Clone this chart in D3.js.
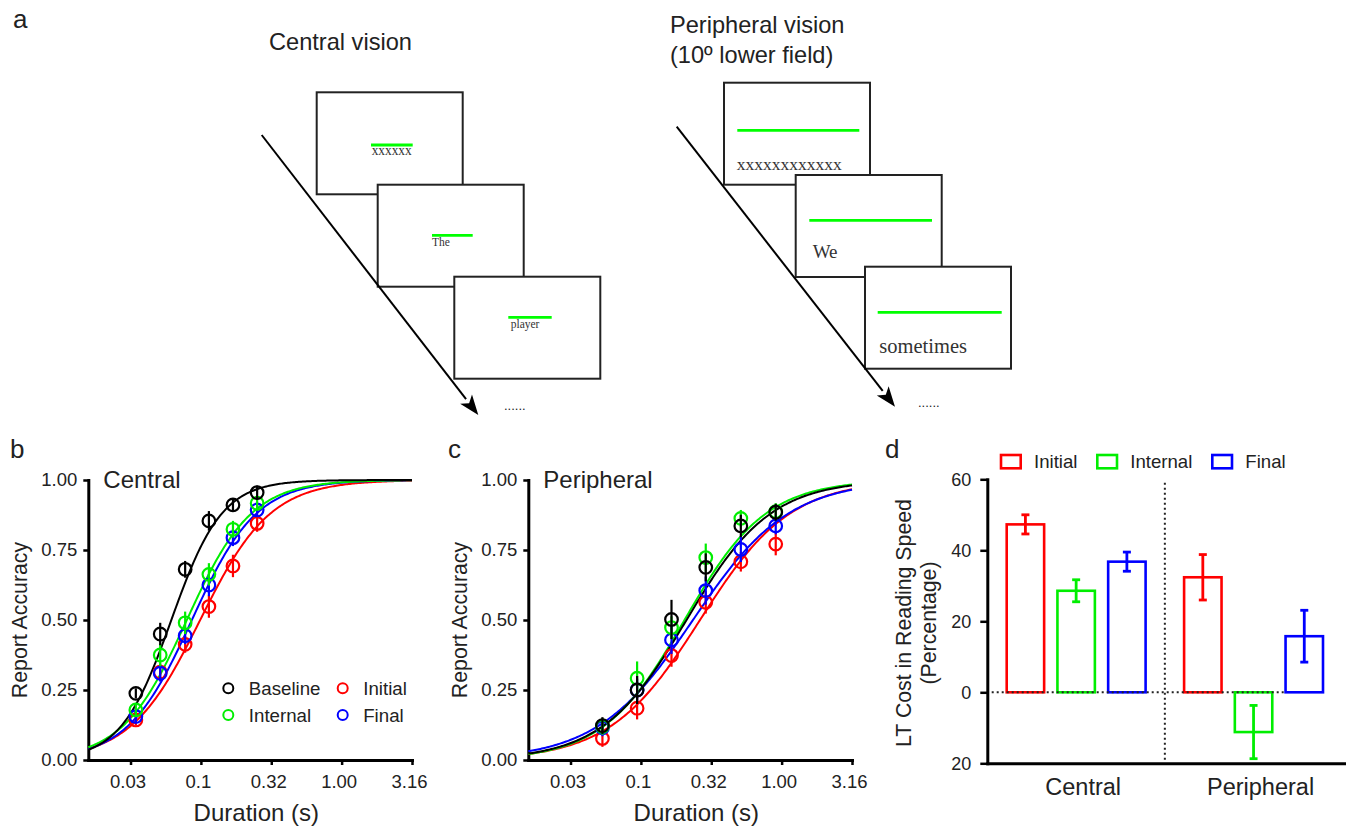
<!DOCTYPE html>
<html>
<head>
<meta charset="utf-8">
<script src="https://cdn.jsdelivr.net/npm/d3@7"></script>
<style>
body { margin: 0; background: #fff; }
text { font-family: "Liberation Sans", Arial, sans-serif; fill: #222; }
.serif { font-family: "Liberation Serif", "Times New Roman", serif; fill: #333; }
</style>
</head>
<body>
<svg id="fig" width="1346" height="827"></svg>
<script>
// ---- data ----
const conditions = ['Baseline', 'Initial', 'Internal', 'Final'];
const condColors = ['#000000', '#ff0000', '#00ee00', '#0000ff'];

const durTicks = [10 ** -1.5, 0.1, 10 ** -0.5, 1, 10 ** 0.5];
const durTickLabels = ['0.03', '0.1', '0.32', '1.00', '3.16'];
const accTicks = [0, 0.25, 0.5, 0.75, 1];

const durCentral = [0.0345, 0.0514, 0.0773, 0.114, 0.169, 0.251];
const durPeripheral = [0.0533, 0.094, 0.165, 0.289, 0.513, 0.908];

const centralBaseline = [0.238, 0.450, 0.681, 0.854, 0.911, 0.955];
const centralInitial  = [0.143, 0.314, 0.413, 0.548, 0.693, 0.845];
const centralInternal = [0.179, 0.375, 0.490, 0.663, 0.824, 0.917];
const centralFinal    = [0.155, 0.310, 0.444, 0.625, 0.794, 0.893];
const centralBaselineErr = [0.018, 0.040, 0.030, 0.035, 0.022, 0.025];
const centralInitialErr  = [0.020, 0.030, 0.030, 0.040, 0.040, 0.030];
const centralInternalErr = [0.020, 0.040, 0.040, 0.040, 0.030, 0.025];
const centralFinalErr    = [0.020, 0.030, 0.030, 0.040, 0.030, 0.025];

const peripheralBaseline = [0.123, 0.250, 0.502, 0.688, 0.836, 0.885];
const peripheralInitial  = [0.077, 0.185, 0.373, 0.563, 0.708, 0.771];
const peripheralInternal = [0.120, 0.292, 0.473, 0.723, 0.863, 0.887];
const peripheralFinal    = [0.115, 0.250, 0.429, 0.605, 0.752, 0.836];
const peripheralBaselineErr = [0.030, 0.050, 0.070, 0.050, 0.040, 0.030];
const peripheralInitialErr  = [0.030, 0.040, 0.040, 0.040, 0.035, 0.040];
const peripheralInternalErr = [0.030, 0.060, 0.040, 0.050, 0.030, 0.030];
const peripheralFinalErr    = [0.030, 0.040, 0.050, 0.050, 0.045, 0.030];

// logistic fits on log10(duration): midpoint and spread, per condition
const fitCentralMu = [-1.21, -1.005, -1.10, -1.064];
const fitCentralSigma = [0.18, 0.25, 0.23, 0.23];
const fitPeripheralMu = [-0.676, -0.58, -0.69, -0.63];
const fitPeripheralSigma = [0.30, 0.32, 0.29, 0.34];

// panel d
const barGroups = ['Central', 'Peripheral'];
const barConds = ['Initial', 'Internal', 'Final'];
const barColors = ['#ff0000', '#00ee00', '#0000ff'];
const costCentral = [47.3, 28.6, 36.8];
const costCentralErr = [2.7, 3.1, 2.7];
const costPeripheral = [32.4, -11.2, 15.8];
const costPeripheralErr = [6.4, 7.5, 7.3];
const costTicks = [-20, 0, 20, 40, 60];

// panel a
const centralWords = ['xxxxxx', 'The', 'player'];
const peripheralWords = ['xxxxxxxxxxxx', 'We', 'sometimes'];

const svg = d3.select('#fig');

const panelLabel = (txt, x, y) => svg.append('text')
    .attr('x', x).attr('y', y).attr('font-size', 26).text(txt);

// ================= panel a =================
panelLabel('a', 13, 28);

svg.append('text').attr('x', 269).attr('y', 50).attr('font-size', 23.6).text('Central vision');
svg.append('text').attr('x', 670).attr('y', 33).attr('font-size', 23.6).text('Peripheral vision');
svg.append('text').attr('x', 670).attr('y', 63).attr('font-size', 23.6).text('(10º lower field)');

// frame layout: box x, y, line dx, dy, len, text dx, dy, font, text width
const centralFrames = [
    [316.7, 92.3, 54.3, 52.7, 41.7, 55, 62.7, 14, 40],
    [377.7, 184.7, 54.3, 50.6, 40.7, 54.3, 61, 11.5, null],
    [454.3, 276.7, 54, 40.6, 43.4, 56.4, 51.6, 11.5, null]
];
const peripheralFrames = [
    [724, 82.7, 13.3, 47.6, 122, 12.7, 87.3, 17.5, 105],
    [795.7, 175, 13.6, 45.3, 122.7, 17, 83.3, 19, null],
    [865, 266.7, 12.7, 45.6, 124, 14.3, 86.6, 20.5, null]
];

const drawSequence = (frames, words, arrow, dots) => {
    const g = svg.append('g');
    const fr = g.selectAll('g.frame')
        .data(frames.map((f, i) => ({ f, w: words[i] })))
        .enter().append('g')
        .attr('transform', d => `translate(${d.f[0]},${d.f[1]})`);
    fr.append('rect')
        .attr('width', 146).attr('height', 102)
        .attr('fill', '#fff').attr('stroke', '#222').attr('stroke-width', 2);
    fr.append('line')
        .attr('x1', d => d.f[2]).attr('x2', d => d.f[2] + d.f[4])
        .attr('y1', d => d.f[3]).attr('y2', d => d.f[3])
        .attr('stroke', '#00ff00').attr('stroke-width', 2.8);
    fr.append('text')
        .attr('class', 'serif')
        .attr('x', d => d.f[5]).attr('y', d => d.f[6])
        .attr('font-size', d => d.f[7])
        .each(function (d) {
            if (d.f[8]) d3.select(this).attr('textLength', d.f[8]).attr('lengthAdjust', 'spacingAndGlyphs');
        })
        .text(d => d.w);

    const [x1, y1, x2, y2] = arrow;
    const ang = Math.atan2(y2 - y1, x2 - x1);
    const L = 20, W = 7.5;
    const bx = x2 - L * Math.cos(ang), by = y2 - L * Math.sin(ang);
    g.append('line')
        .attr('x1', x1).attr('y1', y1).attr('x2', bx).attr('y2', by)
        .attr('stroke', '#000').attr('stroke-width', 2);
    g.append('path')
        .attr('d', `M${x2},${y2}L${bx + W * Math.sin(ang)},${by - W * Math.cos(ang)}L${bx + 5 * Math.cos(ang)},${by + 5 * Math.sin(ang)}L${bx - W * Math.sin(ang)},${by + W * Math.cos(ang)}Z`)
        .attr('fill', '#000');
    g.append('text').attr('x', dots[0]).attr('y', dots[1]).attr('font-size', 13).text('......');
};

drawSequence(centralFrames, centralWords, [261.7, 135, 478.3, 415], [504, 410]);
drawSequence(peripheralFrames, peripheralWords, [676.7, 126.7, 895, 406.7], [918, 407]);

// ================= panels b & c =================
const styleAxis = (ax, fs) => {
    ax.select('.domain').attr('stroke-width', 3).attr('stroke', '#000').attr('stroke-linecap', 'square');
    ax.selectAll('.tick line').attr('stroke-width', 2.5).attr('stroke', '#000');
    ax.selectAll('.tick text').attr('font-size', fs).attr('fill', '#222')
        .attr('font-family', '"Liberation Sans", Arial, sans-serif');
};

const plotPsy = (x0, title, durs, series, errs, mus, sigmas) => {
    const x = d3.scaleLog().domain([10 ** -1.8, 10 ** 0.5]).range([x0, x0 + 323.7]);
    const y = d3.scaleLinear().domain([0, 1]).range([760, 480]);
    const g = svg.append('g');

    const xAx = g.append('g').attr('transform', 'translate(0,760)')
        .call(d3.axisBottom(x).tickValues(durTicks)
            .tickFormat((d, i) => durTickLabels[i]).tickSize(5).tickSizeOuter(0).tickPadding(10));
    styleAxis(xAx, 18.5);
    xAx.selectAll('.tick text').attr('dx', -3);

    const yAx = g.append('g').attr('transform', `translate(${x0},0)`)
        .call(d3.axisLeft(y).tickValues(accTicks).tickFormat(d3.format('.2f'))
            .tickSize(5).tickSizeOuter(0).tickPadding(6));
    styleAxis(yAx, 18.5);

    g.append('text')
        .attr('transform', `translate(${x0 - 61},620) rotate(-90)`)
        .attr('text-anchor', 'middle').attr('font-size', 21.3).text('Report Accuracy');
    g.append('text')
        .attr('x', x0 + 168).attr('y', 820.5)
        .attr('text-anchor', 'middle').attr('font-size', 24).text('Duration (s)');
    g.append('text')
        .attr('x', x0 + 15).attr('y', 488).attr('font-size', 24).text(title);

    const samples = d3.range(0, 241).map(i => 10 ** (-1.8 + 2.3 * i / 240));
    const line = d3.line().x(d => x(d[0])).y(d => y(d[1])).curve(d3.curveLinear);
    const order = [1, 3, 2, 0];

    order.forEach(k => {
        const mu = mus[k], s = sigmas[k];
        g.append('path')
            .datum(samples.map(t => [t, 1 / (1 + Math.exp(-(Math.log10(t) - mu) / s))]))
            .attr('d', line).attr('fill', 'none')
            .attr('stroke', condColors[k]).attr('stroke-width', 2);
    });

    order.forEach(k => {
        const pts = durs.map((t, i) => ({ t, v: series[k][i], e: errs[k][i] }));
        const pg = g.append('g').attr('stroke', condColors[k]).attr('stroke-width', 2.2);
        pg.selectAll('line').data(pts).enter().append('line')
            .attr('x1', d => x(d.t)).attr('x2', d => x(d.t))
            .attr('y1', d => y(d.v - d.e)).attr('y2', d => y(d.v + d.e));
        pg.selectAll('circle').data(pts).enter().append('circle')
            .attr('cx', d => x(d.t)).attr('cy', d => y(d.v))
            .attr('r', 6.3).attr('fill', 'none');
    });
    return g;
};

panelLabel('b', 10, 458);
const gb = plotPsy(88.3, 'Central', durCentral,
    [centralBaseline, centralInitial, centralInternal, centralFinal],
    [centralBaselineErr, centralInitialErr, centralInternalErr, centralFinalErr],
    fitCentralMu, fitCentralSigma);

// legend in panel b
const legendB = gb.append('g');
const legPos = [[228.3, 688.3], [342.7, 688.3], [228.3, 715], [342.7, 715]];
legendB.selectAll('g').data(conditions).enter().append('g')
    .attr('transform', (d, i) => `translate(${legPos[i][0]},${legPos[i][1]})`)
    .each(function (d, i) {
        const it = d3.select(this);
        it.append('circle').attr('r', 5).attr('fill', 'none')
            .attr('stroke', condColors[i]).attr('stroke-width', 2);
        it.append('text').attr('x', 20.5).attr('y', 6.5).attr('font-size', 18.7).text(d);
    });

panelLabel('c', 448, 458);
plotPsy(528.3, 'Peripheral', durPeripheral,
    [peripheralBaseline, peripheralInitial, peripheralInternal, peripheralFinal],
    [peripheralBaselineErr, peripheralInitialErr, peripheralInternalErr, peripheralFinalErr],
    fitPeripheralMu, fitPeripheralSigma);

// ================= panel d =================
panelLabel('d', 885, 458);
const gd = svg.append('g');
const yD = d3.scaleLinear().domain([-20, 60]).range([763.3, 479.3]);
const xGroup = d3.scaleBand().domain(barGroups).range([1006.7, 1323]).paddingInner(0.217);
const xCond = d3.scaleBand().domain(barConds).range([0, xGroup.bandwidth()]).paddingInner(0.262);

const yAxD = gd.append('g').attr('transform', 'translate(987.3,0)')
    .call(d3.axisLeft(yD).tickValues(costTicks).tickFormat(d => Math.abs(d))
        .tickSize(7).tickSizeOuter(0).tickPadding(9));
styleAxis(yAxD, 18);

const xAxD = gd.append('g').attr('transform', `translate(0,${yD(-20)})`)
    .call(d3.axisBottom(d3.scaleLinear().range([987.3, 1346])).tickValues([]).tickSizeOuter(0));
styleAxis(xAxD, 18);

gd.append('text')
    .attr('transform', 'translate(910.7,623) rotate(-90)')
    .attr('text-anchor', 'middle').attr('font-size', 21.3).text('LT Cost in Reading Speed');
gd.append('text')
    .attr('transform', 'translate(936,623) rotate(-90)')
    .attr('text-anchor', 'middle').attr('font-size', 21.3).text('(Percentage)');

const barData = [];
barGroups.forEach((grp, gi) => {
    const vals = gi === 0 ? costCentral : costPeripheral;
    const errs = gi === 0 ? costCentralErr : costPeripheralErr;
    barConds.forEach((c, ci) => barData.push({ grp, c, ci, v: vals[ci], e: errs[ci] }));
});

const bx = d => xGroup(d.grp) + xCond(d.c);
gd.selectAll('rect.bar').data(barData).enter().append('rect')
    .attr('class', 'bar')
    .attr('x', bx).attr('width', xCond.bandwidth())
    .attr('y', d => yD(Math.max(0, d.v)))
    .attr('height', d => Math.abs(yD(d.v) - yD(0)))
    .attr('fill', 'none').attr('stroke', d => barColors[d.ci]).attr('stroke-width', 2.6);

const eb = gd.selectAll('g.err').data(barData).enter().append('g')
    .attr('stroke', d => barColors[d.ci]).attr('stroke-width', 2.8);
const cx = d => bx(d) + xCond.bandwidth() / 2;
eb.append('line').attr('x1', cx).attr('x2', cx)
    .attr('y1', d => yD(d.v - d.e)).attr('y2', d => yD(d.v + d.e));
eb.append('line').attr('x1', d => cx(d) - 4).attr('x2', d => cx(d) + 4)
    .attr('y1', d => yD(d.v + d.e)).attr('y2', d => yD(d.v + d.e));
eb.append('line').attr('x1', d => cx(d) - 4).attr('x2', d => cx(d) + 4)
    .attr('y1', d => yD(d.v - d.e)).attr('y2', d => yD(d.v - d.e));

// dotted zero line and group divider
const divX = (xGroup('Central') + xGroup.bandwidth() + xGroup('Peripheral')) / 2;
gd.append('line')
    .attr('x1', 991.7).attr('x2', xGroup('Peripheral') + xCond('Final'))
    .attr('y1', yD(0)).attr('y2', yD(0))
    .attr('stroke', '#222').attr('stroke-width', 2).attr('stroke-dasharray', '2,3');
gd.append('line')
    .attr('x1', divX).attr('x2', divX)
    .attr('y1', yD(59)).attr('y2', yD(-19.3))
    .attr('stroke', '#222').attr('stroke-width', 2).attr('stroke-dasharray', '2,3');

gd.selectAll('text.grp').data(barGroups).enter().append('text')
    .attr('class', 'grp')
    .attr('x', d => xGroup(d) + xGroup.bandwidth() / 2 + 7).attr('y', 795)
    .attr('text-anchor', 'middle').attr('font-size', 23.5).text(d => d);

// legend d
const legX = [1001, 1097.3, 1212.3];
const legD = gd.selectAll('g.leg').data(barConds).enter().append('g')
    .attr('transform', (d, i) => `translate(${legX[i]},455)`);
legD.append('rect').attr('width', 19.7).attr('height', 13.3)
    .attr('fill', 'none').attr('stroke', (d, i) => barColors[i]).attr('stroke-width', 2.6);
legD.append('text').attr('x', 33).attr('y', 13.3).attr('font-size', 18.6).text(d => d);
</script>
</body>
</html>
